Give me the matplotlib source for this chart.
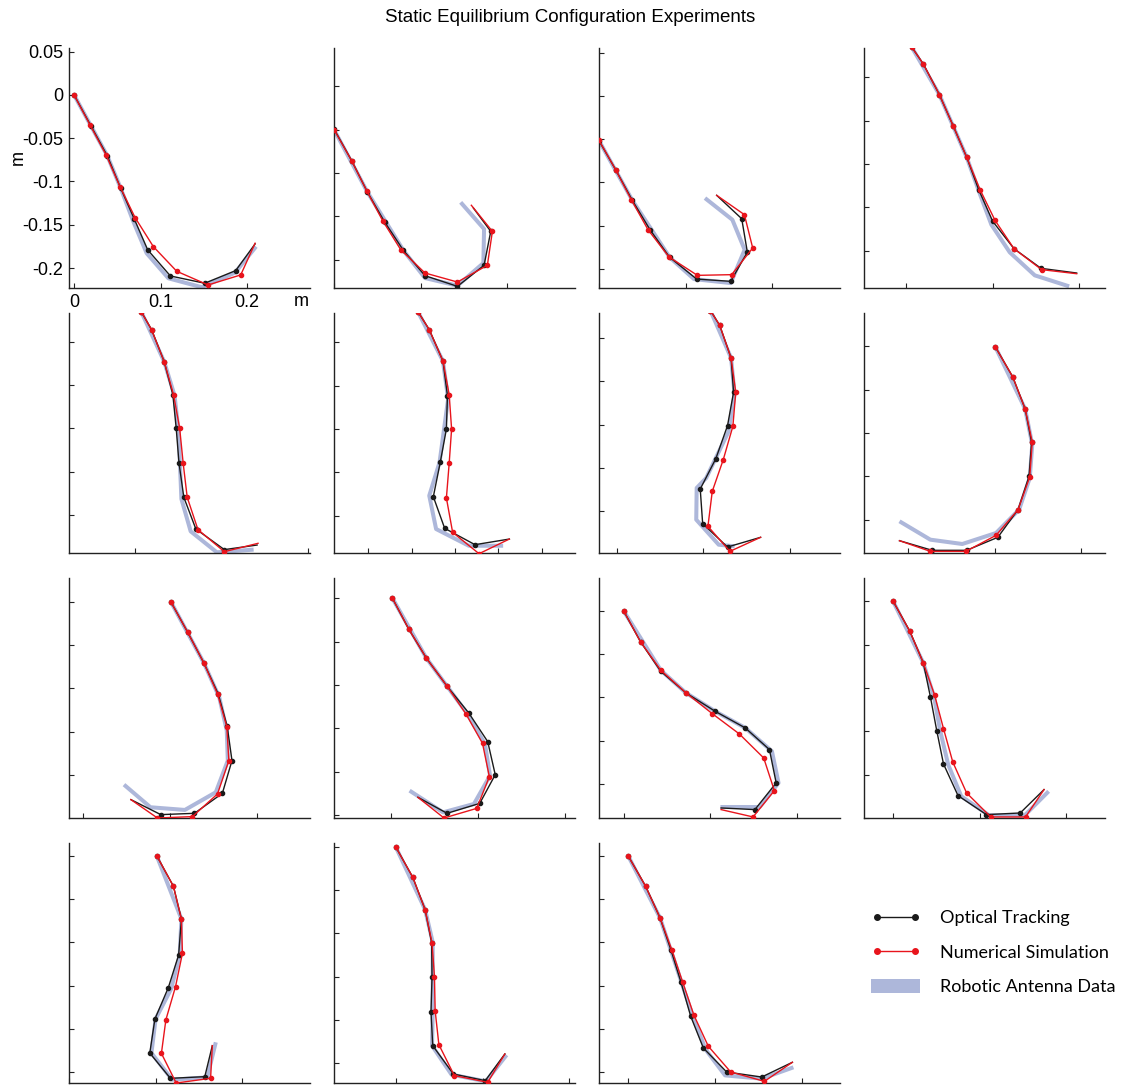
import matplotlib
matplotlib.use('Agg')
import matplotlib.pyplot as plt
from matplotlib.lines import Line2D
from matplotlib.patches import Patch
from matplotlib.ticker import MultipleLocator, FormatStrFormatter

plt.rcParams['font.family'] = ['Liberation Sans', 'DejaVu Sans']
plt.rcParams['axes.unicode_minus'] = False

# all coordinates in millimetres
# lower-left corner of each panel
x_low = [-5.8, -100.1, -100.1, -48.5, -76.2, -39.7, -20.5, -50.8,
         -16.7, -66.3, -28.7, -33.6, -100.0, -71.5, -33.9]
y_low = [-223.0, -32.7, -21.9, -43.1, -43.9, -43.1, -48.1, -38.5,
         -49.7, -53.5, -39.3, -50.1, -12.3, -22.7, -12.3]
x_step = [0.1, 0.1, 0.1, 0.1, 0.1, 0.05, 0.1, 0.1,
          0.1, 0.1, 0.1, 0.1, 0.1, 0.1, 0.1]

optical_x = [
    [0, 19.3, 38.5, 53.9, 69.7, 85.1, 111.3, 150.9, 186.7, 209.1],
    [-100.1, -79.7, -61.6, -41.6, -20.0, 5.0, 42.4, 73.2, 80.9, 60.8],
    [-100.1, -80.9, -61.6, -41.2, -18.5, 12.7, 52.0, 71.2, 64.7, 35.8],
    [6.5, 20.0, 38.5, 54.7, 70.1, 83.9, 100.1, 124.7, 155.9, 197.1],
    [7.1, 19.1, 33.7, 43.7, 47.6, 50.8, 56.4, 70.3, 103.2, 141.0],
    [57.2, 70.3, 86.1, 91.3, 90.1, 83.0, 75.0, 88.1, 123.1, 162.8],
    [108.2, 118.9, 132.0, 134.9, 127.9, 114.4, 96.4, 99.2, 127.9, 166.1],
    [100.9, 121.0, 135.3, 142.7, 139.8, 127.1, 103.7, 67.7, 27.9, -9.8],
    [101.2, 120.3, 139.0, 155.6, 166.0, 171.5, 160.4, 128.2, 89.3, 54.8],
    [1.2, 19.9, 40.5, 64.3, 89.3, 111.2, 119.9, 102.0, 64.3, 30.6],
    [0, 19.3, 42.6, 71.8, 105.4, 140.2, 168.1, 175.9, 151.3, 112.3],
    [0, 19.3, 34.9, 43.1, 50.4, 58.2, 75.0, 107.8, 146.8, 174.3],
    [1.2, 20.6, 29.8, 26.6, 14.7, -0.8, -6.7, 17.1, 56.8, 65.5],
    [0, 19.5, 33.7, 41.3, 41.7, 40.5, 42.5, 66.3, 103.2, 125.8],
    [0, 20.0, 36.6, 49.3, 60.8, 72.0, 86.6, 113.5, 154.0, 189.4],
]
optical_y = [
    [0, -35.4, -70.5, -107.8, -143.6, -179.0, -209.1, -217.5, -202.9, -172.1],
    [150.9, 114.3, 78.2, 43.5, 10.8, -18.5, -30.8, -6.5, 32.7, 59.7],
    [148.2, 114.7, 79.3, 45.4, 13.5, -11.6, -14.2, 19.6, 58.1, 85.1],
    [235.2, 215.6, 180.2, 143.6, 107.8, 70.5, 33.9, 2.3, -20.4, -25.8],
    [234.9, 214.1, 177.1, 139.0, 100.1, 60.1, 20.4, -16.2, -40.0, -34.7],
    [235.6, 214.8, 178.6, 138.6, 100.1, 61.6, 21.9, -14.6, -33.5, -27.0],
    [231.8, 214.8, 177.1, 137.5, 98.9, 60.8, 25.8, -14.2, -41.2, -30.0],
    [199.4, 164.8, 127.8, 89.3, 50.1, 11.6, -20.4, -35.4, -35.4, -24.3],
    [199.4, 164.8, 129.4, 93.6, 56.2, 16.6, -21.2, -44.3, -45.8, -28.5],
    [200.2, 164.8, 130.9, 98.6, 67.8, 34.7, -3.5, -36.6, -48.1, -29.6],
    [199.4, 164.0, 130.1, 105.1, 83.9, 64.7, 39.7, 1.2, -29.6, -27.7],
    [200.2, 165.6, 129.0, 89.7, 50.8, 12.3, -24.3, -46.2, -44.3, -17.3],
    [250.3, 214.8, 177.1, 135.5, 97.8, 61.6, 22.3, -6.9, -5.0, 30.8],
    [249.5, 214.8, 177.5, 139.0, 99.3, 59.7, 20.4, -12.3, -20.0, 10.8],
    [249.5, 214.8, 178.3, 140.9, 103.9, 64.7, 28.1, 0.4, -5.4, 11.6],
]

sim_x = [
    [0, 18.5, 37.0, 53.1, 70.5, 91.6, 118.6, 154.8, 192.5, 209.1],
    [-100.1, -79.7, -62.4, -43.9, -23.1, 5.0, 42.4, 77.0, 82.8, 58.5],
    [-100.1, -80.9, -62.8, -43.5, -19.2, 13.5, 53.1, 77.4, 67.8, 35.8],
    [6.5, 20.0, 38.5, 54.7, 70.1, 85.5, 102.8, 124.7, 156.6, 197.1],
    [7.1, 19.1, 33.7, 44.5, 51.6, 55.6, 60.3, 72.7, 103.2, 142.1],
    [57.2, 70.3, 86.1, 93.3, 96.1, 93.3, 90.1, 97.3, 127.8, 162.8],
    [108.2, 118.9, 132.0, 137.4, 134.1, 123.0, 110.3, 105.3, 130.7, 166.1],
    [100.9, 121.0, 135.3, 143.5, 140.6, 127.1, 101.7, 66.8, 25.8, -9.8],
    [101.2, 120.3, 139.0, 154.8, 165.5, 167.9, 154.8, 125.8, 85.4, 54.8],
    [1.2, 19.9, 40.5, 64.3, 86.1, 105.2, 113.1, 98.5, 60.7, 30.6],
    [0, 19.3, 42.6, 71.8, 102.1, 133.3, 161.5, 173.8, 149.2, 112.3],
    [0, 19.3, 34.9, 48.0, 58.2, 68.9, 84.9, 112.8, 152.9, 174.3],
    [1.2, 20.6, 29.8, 31.0, 23.0, 11.9, 6.7, 23.8, 63.5, 65.5],
    [0, 19.5, 33.7, 41.7, 44.5, 45.3, 49.6, 67.5, 106.0, 125.8],
    [0, 20.0, 36.6, 50.1, 62.8, 75.8, 92.4, 118.2, 157.1, 189.4],
]
sim_y = [
    [0, -34.7, -69.3, -105.9, -141.7, -175.2, -203.7, -219.5, -207.9, -171.3],
    [150.2, 114.3, 79.7, 45.0, 11.6, -15.4, -25.8, -6.5, 32.7, 62.8],
    [148.6, 114.7, 80.1, 45.4, 13.9, -7.3, -6.5, 24.3, 62.8, 85.1],
    [235.2, 215.6, 180.2, 143.6, 107.8, 70.5, 35.0, 2.3, -21.9, -26.6],
    [234.9, 214.1, 177.1, 139.0, 100.1, 60.1, 20.4, -16.9, -42.4, -32.7],
    [235.6, 214.8, 178.6, 139.8, 100.1, 60.4, 20.4, -19.3, -43.9, -27.0],
    [231.8, 214.8, 177.1, 137.5, 98.2, 59.7, 23.1, -17.3, -46.2, -30.0],
    [199.4, 164.8, 127.8, 89.3, 49.3, 11.6, -18.1, -36.6, -36.6, -24.3],
    [199.4, 164.8, 129.4, 93.6, 55.8, 16.6, -21.9, -48.1, -49.7, -28.5],
    [200.2, 164.8, 130.9, 98.6, 66.6, 32.7, -5.8, -42.4, -53.5, -29.6],
    [199.4, 164.0, 131.3, 105.1, 81.2, 57.8, 30.0, -7.7, -38.1, -29.6],
    [200.2, 165.6, 129.0, 91.6, 53.1, 14.6, -21.2, -48.9, -48.9, -17.3],
    [250.3, 214.8, 177.1, 137.5, 98.9, 60.8, 21.9, -12.3, -6.9, 30.8],
    [249.5, 214.8, 177.5, 139.0, 100.1, 60.8, 21.6, -14.2, -21.9, 10.8],
    [249.5, 214.8, 178.3, 141.7, 103.9, 65.8, 30.0, 0.4, -10.4, 11.6],
]

robot_x = [
    [0, 19.3, 38.5, 53.9, 68.5, 83.9, 109.0, 147.5, 186.0, 210.2],
    [-100.1, -61.6, -20.0, 5.0, 42.4, 72.4, 73.2, 46.2],
    [-100.1, -61.6, -18.5, 9.6, 52.0, 68.1, 53.9, 22.3],
    [6.5, 38.5, 70.1, 86.3, 98.6, 119.8, 148.7, 188.4],
    [7.1, 33.7, 45.7, 50.4, 53.6, 64.3, 94.5, 137.0],
    [57.2, 86.1, 92.1, 82.2, 70.3, 78.2, 115.9, 155.6],
    [108.2, 132.0, 136.1, 129.2, 103.3, 92.3, 91.8, 117.7, 136.1],
    [100.9, 135.3, 143.5, 140.6, 128.3, 101.7, 62.7, 25.8, -9.8],
    [101.2, 139.0, 156.8, 165.5, 166.7, 152.8, 117.1, 77.4, 46.8],
    [1.2, 40.5, 64.3, 87.3, 108.0, 113.9, 95.3, 59.6, 21.0],
    [0, 42.6, 71.8, 105.4, 140.2, 171.0, 178.6, 156.9, 111.5],
    [0, 34.9, 47.2, 54.5, 63.6, 78.7, 110.7, 151.7, 179.6],
    [1.2, 29.8, 27.8, 17.9, 0, -4.8, 19.1, 59.6, 69.5],
    [0, 33.7, 42.5, 42.5, 41.7, 64.3, 104.0, 127.8],
    [0, 36.6, 50.1, 63.5, 75.1, 89.3, 111.7, 154.0, 190.6],
]
robot_y = [
    [0, -35.4, -70.5, -107.8, -146.3, -182.9, -211.8, -222.1, -205.2, -175.2],
    [150.2, 78.2, 10.8, -21.2, -30.0, -3.9, 35.4, 66.2],
    [148.2, 79.3, 13.5, -11.6, -16.2, 22.3, 56.9, 81.9],
    [235.2, 180.2, 107.8, 62.8, 30.0, -1.9, -28.5, -41.2],
    [234.9, 177.1, 137.8, 95.5, 18.5, -18.9, -43.1, -40.0],
    [235.6, 178.6, 134.8, 61.6, 23.1, -15.4, -34.7, -34.7],
    [231.8, 177.1, 134.8, 92.4, 38.5, 27.0, -9.6, -38.5, -40.4],
    [199.4, 127.8, 86.6, 48.1, 11.6, -15.4, -28.1, -23.1, -1.9],
    [199.4, 129.4, 89.7, 51.2, 16.6, -20.0, -40.4, -37.3, -11.2],
    [200.2, 130.9, 98.6, 67.4, 32.0, -4.6, -37.3, -47.0, -21.9],
    [199.4, 131.3, 105.1, 83.9, 64.7, 37.7, 1.2, -26.6, -26.6],
    [200.2, 129.0, 90.1, 50.1, 11.6, -25.0, -46.9, -47.3, -19.3],
    [250.3, 177.1, 134.8, 96.3, 61.6, 22.3, -8.5, -5.8, 34.7],
    [249.5, 177.5, 139.8, 58.9, 20.4, -13.1, -20.8, 9.6],
    [249.5, 178.3, 137.8, 97.4, 62.8, 26.2, -3.5, -7.3, 5.8],
]

legend_labels = ['Optical Tracking', 'Numerical Simulation', 'Robotic Antenna Data']

BLACK = '#1a1a1a'
RED = '#e8141c'
BLUE = '#adb7da'

W, H = 1141, 1086
fig = plt.figure(figsize=(W / 100, H / 100), dpi=100)
fig.text(0.5, 1 - 18 / H, 'Static Equilibrium Configuration Experiments',
         ha='center', va='center', fontsize=13.5)

span_x = 0.2783
span_y = 0.2771

for i in range(15):
    r, c = divmod(i, 4)
    left = (69 + 265 * c) / W
    bottom = 1 - (288 + 265 * r) / H
    ax = fig.add_axes([left, bottom, 241 / W, 240 / H])

    m = 1000.0
    rx = [v / m for v in robot_x[i]]
    ry = [v / m for v in robot_y[i]]
    ox = [v / m for v in optical_x[i]]
    oy = [v / m for v in optical_y[i]]
    sx = [v / m for v in sim_x[i]]
    sy = [v / m for v in sim_y[i]]

    ax.plot(rx, ry, color=BLUE, lw=2.9, solid_capstyle='butt', zorder=1)
    ax.plot(ox, oy, color=BLACK, lw=1.0, marker='o', ms=3.0,
            markevery=list(range(len(ox) - 1)), zorder=2)
    ax.plot(sx, sy, color=RED, lw=1.0, marker='o', ms=3.0,
            markevery=list(range(len(sx) - 1)), zorder=3)

    x0 = x_low[i] / m
    y0 = y_low[i] / m
    ax.set_xlim(x0, x0 + span_x)
    ax.set_ylim(y0, y0 + span_y)

    for s in ['top', 'right']:
        ax.spines[s].set_visible(False)
    for s in ['left', 'bottom']:
        ax.spines[s].set_linewidth(1.0)
        ax.spines[s].set_color('#222222')
    ax.xaxis.set_major_locator(MultipleLocator(x_step[i]))
    ax.yaxis.set_major_locator(MultipleLocator(0.05))
    ax.tick_params(direction='in', length=3.5, width=0.8, colors='#222222',
                   labelsize=13, pad=4)

    if i == 0:
        ax.xaxis.set_major_formatter(FormatStrFormatter('%g'))
        ax.yaxis.set_major_formatter(FormatStrFormatter('%g'))
        ax.tick_params(labelcolor='black')
        ax.text(-0.21, 0.545, 'm', transform=ax.transAxes, fontsize=13,
                rotation=90, ha='center', va='center')
        ax.text(0.965, -0.055, 'm', transform=ax.transAxes, fontsize=13,
                ha='center', va='center')
    else:
        ax.set_xticklabels([])
        ax.set_yticklabels([])

handles = [
    Line2D([0], [0], color=BLACK, lw=1.0, marker='o', ms=4),
    Line2D([0], [0], color=RED, lw=1.0, marker='o', ms=4),
    Patch(facecolor=BLUE, edgecolor='none'),
]
fig.legend(handles, legend_labels, loc='upper left',
           bbox_to_anchor=(855 / W, 1 - 894 / H), frameon=False,
           prop={'family': 'Lato', 'size': 13}, handlelength=2.7,
           handleheight=0.8, handletextpad=1.1, labelspacing=1.0,
           numpoints=2)

fig.savefig('out.png', dpi=100)
